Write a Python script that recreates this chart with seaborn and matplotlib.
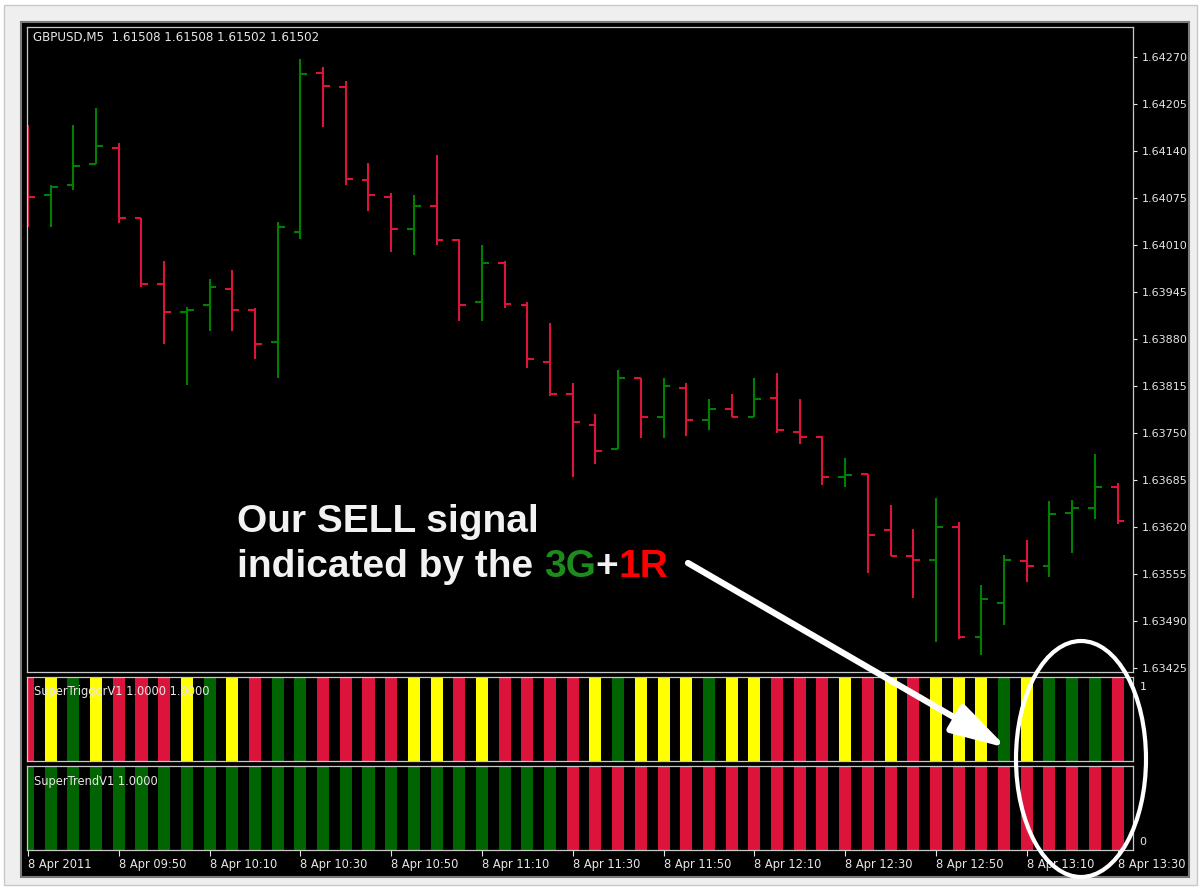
import numpy as np
import pandas as pd
import seaborn as sns
import matplotlib.pyplot as plt
from matplotlib.patches import Rectangle, Ellipse, FancyArrowPatch

W, H, DPI = 1201, 888, 100

# GBPUSD M5 bars, 8 Apr 2011 09:30 .. 13:30
opens = [1.64162, 1.64078, 1.64093, 1.64122, 1.64144, 1.64047, 1.63955, 1.63917, 1.63927, 1.63948,
         1.63919, 1.63876, 1.64028, 1.64248, 1.64228, 1.64100, 1.64076, 1.64031, 1.64063, 1.64017,
         1.63931, 1.63985, 1.63927, 1.63848, 1.63803, 1.63760, 1.63728, 1.63825, 1.63772, 1.63812,
         1.63767, 1.63783, 1.63771, 1.63798, 1.63751, 1.63744, 1.63689, 1.63693, 1.63616, 1.63580,
         1.63574, 1.63620, 1.63468, 1.63514, 1.63572, 1.63566, 1.63639, 1.63646, 1.63675]
highs = [1.64175, 1.64092, 1.64176, 1.64199, 1.64150, 1.64047, 1.63987, 1.63924, 1.63962, 1.63975,
         1.63922, 1.64042, 1.64267, 1.64256, 1.64237, 1.64123, 1.64082, 1.64078, 1.64134, 1.64018,
         1.64009, 1.63988, 1.63931, 1.63901, 1.63819, 1.63776, 1.63836, 1.63825, 1.63826, 1.63818,
         1.63796, 1.63803, 1.63826, 1.63832, 1.63796, 1.63746, 1.63715, 1.63693, 1.63650, 1.63617,
         1.63660, 1.63626, 1.63540, 1.63581, 1.63601, 1.63655, 1.63657, 1.63720, 1.63680]
lows = [1.64034, 1.64034, 1.64085, 1.64122, 1.64040, 1.63951, 1.63872, 1.63816, 1.63891, 1.63891,
        1.63852, 1.63825, 1.64018, 1.64173, 1.64093, 1.64056, 1.64000, 1.63995, 1.64010, 1.63904,
        1.63905, 1.63922, 1.63839, 1.63801, 1.63689, 1.63707, 1.63727, 1.63742, 1.63742, 1.63746,
        1.63754, 1.63772, 1.63771, 1.63750, 1.63735, 1.63678, 1.63675, 1.63556, 1.63579, 1.63522,
        1.63460, 1.63465, 1.63443, 1.63484, 1.63543, 1.63551, 1.63584, 1.63630, 1.63624]
closes = [1.64076, 1.64090, 1.64119, 1.64147, 1.64047, 1.63955, 1.63917, 1.63920, 1.63951, 1.63920,
          1.63873, 1.64034, 1.64246, 1.64230, 1.64101, 1.64078, 1.64031, 1.64064, 1.64017, 1.63927,
          1.63985, 1.63928, 1.63852, 1.63803, 1.63765, 1.63724, 1.63825, 1.63771, 1.63815, 1.63767,
          1.63783, 1.63772, 1.63797, 1.63753, 1.63744, 1.63688, 1.63691, 1.63608, 1.63580, 1.63574,
          1.63620, 1.63468, 1.63520, 1.63574, 1.63566, 1.63638, 1.63646, 1.63675, 1.63628]

trigger_state = ["red", "yellow", "green", "yellow", "red", "red", "red", "yellow", "green", "yellow",
                 "red", "green", "green", "red", "red", "red", "red", "yellow", "yellow", "red",
                 "yellow", "red", "red", "red", "red", "yellow", "green", "yellow", "yellow", "yellow",
                 "green", "yellow", "yellow", "red", "red", "red", "yellow", "red", "yellow", "red",
                 "yellow", "yellow", "yellow", "green", "yellow", "green", "green", "green", "red"]
trigger_vals = [1, 1, 1, 1, 1, 1, 1, 1, 1, 1, 1, 1, 1, 1, 1, 1, 1, 1, 1, 1, 1, 1, 1, 1, 1,
                1, 1, 1, 1, 1, 1, 1, 1, 1, 1, 1, 1, 1, 1, 1, 1, 1, 1, 1, 1, 1, 1, 1, 1]
trend_state = ["green"] * 24 + ["red"] * 25
trend_vals = [1, 1, 1, 1, 1, 1, 1, 1, 1, 1, 1, 1, 1, 1, 1, 1, 1, 1, 1, 1, 1, 1, 1, 1, 1,
              1, 1, 1, 1, 1, 1, 1, 1, 1, 1, 1, 1, 1, 1, 1, 1, 1, 1, 1, 1, 1, 1, 1, 1]

price_ticks = [1.63425, 1.63490, 1.63555, 1.63620, 1.63685, 1.63750, 1.63815,
               1.63880, 1.63945, 1.64010, 1.64075, 1.64140, 1.64205, 1.64270]
time_tick_bars = [0, 4, 8, 12, 16, 20, 24, 28, 32, 36, 40, 44, 48]
time_labels = ["8 Apr 2011", "8 Apr 09:50", "8 Apr 10:10", "8 Apr 10:30", "8 Apr 10:50",
               "8 Apr 11:10", "8 Apr 11:30", "8 Apr 11:50", "8 Apr 12:10", "8 Apr 12:30",
               "8 Apr 12:50", "8 Apr 13:10", "8 Apr 13:30"]

CANDLE_UP = "#008000"
CANDLE_DN = "#dc143c"
palette = {"green": "#006400", "red": "#dc143c", "yellow": "#ffff00"}
FG = "#e6e6e6"
FRAME = "#c8c8c8"

sns.set_theme(style="dark", rc={"axes.facecolor": "black"})
plt.rcParams["font.family"] = ["DejaVu Sans"]

fig = plt.figure(figsize=(W / DPI, H / DPI), dpi=DPI, facecolor="white")


def fx(px):
    return px / W


def fy(py):
    return 1 - py / H


# window background and black chart area
fig.patches.append(Rectangle((fx(4), fy(885)), fx(1193), 880 / H, transform=fig.transFigure,
                             facecolor="#efefef", edgecolor="#c8c8c8", lw=1, zorder=-2))
fig.patches.append(Rectangle((fx(21), fy(877)), fx(1168), 855 / H, transform=fig.transFigure,
                             facecolor="black", edgecolor="#7a7a7a", lw=1.5, zorder=-1))

ax_main = fig.add_axes([fx(27), fy(672), fx(1106), 645 / H])
ax_trig = fig.add_axes([fx(27), fy(761), fx(1106), 84 / H])
ax_trend = fig.add_axes([fx(27), fy(850), fx(1106), 84 / H])

# price bars (OHLC)
x = np.arange(len(opens))
o, h, l, c = map(np.array, (opens, highs, lows, closes))
cols = np.where(c >= o, CANDLE_UP, CANDLE_DN)
ax_main.vlines(x, l, h, colors=cols, lw=1.5)
ax_main.hlines(o, x - 0.3, x, colors=cols, lw=1.5)
ax_main.hlines(c, x, x + 0.3, colors=cols, lw=1.5)
ax_main.set_ylim(1.63419, 1.64311)

# indicator histograms
trig_df = pd.DataFrame({"bar": x, "value": trigger_vals, "state": trigger_state})
trend_df = pd.DataFrame({"bar": x, "value": trend_vals, "state": trend_state})
for ax, df in ((ax_trig, trig_df), (ax_trend, trend_df)):
    sns.barplot(data=df, x="bar", y="value", hue="state", palette=palette, native_scale=True,
                width=0.53, dodge=False, errorbar=None, saturation=1, linewidth=0,
                legend=False, ax=ax)
    ax.set_ylim(0, 1)
    ax.set_xlabel("")
    ax.set_ylabel("")

for ax in (ax_main, ax_trig, ax_trend):
    ax.set_facecolor("black")
    ax.set_xlim(-0.044, 48.68)
    ax.grid(False)
    for sp in ax.spines.values():
        sp.set_color(FRAME)
        sp.set_linewidth(0.9)
        sp.set_visible(True)
    ax.set_xticks([])

ax_trig.set_yticks([])
ax_trend.set_yticks([])

ax_main.yaxis.tick_right()
ax_main.set_yticks(price_ticks)
ax_main.set_yticklabels([f"{v:.5f}" for v in price_ticks])
ax_main.tick_params(axis="y", which="both", left=False, right=True, labelleft=False,
                    labelright=True, colors=FG, labelsize=8, length=3, width=0.8,
                    direction="out", pad=3)

ax_trend.set_xticks(time_tick_bars)
ax_trend.set_xticklabels(time_labels)
ax_trend.tick_params(axis="x", bottom=True, colors=FG, labelsize=8.3, length=4, width=0.8,
                     direction="out", pad=2)
for lbl in ax_trend.get_xticklabels():
    lbl.set_horizontalalignment("left")

ax_trig.text(1.006, 0.88, "1", transform=ax_trig.transAxes, color=FG, fontsize=8, va="center")
ax_trend.text(1.006, 0.1, "0", transform=ax_trend.transAxes, color=FG, fontsize=8, va="center")

# panel captions
fig.text(fx(33), fy(38), "GBPUSD,M5  1.61508 1.61508 1.61502 1.61502", color=FG,
         fontsize=8.6, va="center")
fig.text(fx(34), fy(691), "SuperTriggerV1 1.0000 1.0000", color=FG, fontsize=8.3, va="center")
fig.text(fx(34), fy(781), "SuperTrendV1 1.0000", color=FG, fontsize=8.3, va="center")

# annotation text
big = dict(fontsize=28, fontweight="bold", family=["Liberation Sans", "DejaVu Sans"],
           va="baseline", zorder=12)
fig.text(fx(237), fy(532), "Our SELL signal", color="#f2f2f2", **big)
t1 = fig.text(fx(237), fy(577), "indicated by the", color="#f2f2f2", **big)
fig.canvas.draw()
renderer = fig.canvas.get_renderer()
x_px = t1.get_window_extent(renderer).x1 + 28 * DPI / 72 * 0.278
for piece, col in (("3G", "#1c8c1c"), ("+", "#f2f2f2"), ("1R", "#ff0000")):
    t = fig.text(x_px / W, fy(577), piece, color=col, **big)
    x_px = t.get_window_extent(renderer).x1

# arrow and ellipse
fig.add_artist(FancyArrowPatch((fx(688), fy(563)), (fx(1007), fy(748)), transform=fig.transFigure,
                               arrowstyle="-|>,head_length=3.4,head_width=0.95", mutation_scale=10,
                               color="white", lw=4.5, capstyle="round", shrinkA=0, shrinkB=0,
                               zorder=11))
fig.add_artist(Ellipse((fx(1081), fy(759)), fx(130), 236 / H, transform=fig.transFigure,
                       facecolor="none", edgecolor="white", lw=3, zorder=11))

fig.savefig("out.png", dpi=DPI, facecolor=fig.get_facecolor())
